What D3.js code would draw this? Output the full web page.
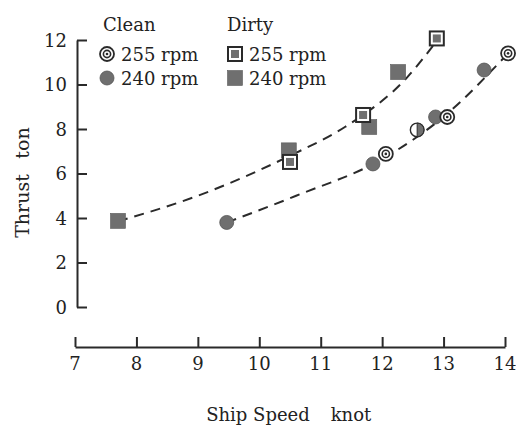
<!DOCTYPE html>
<html><head><meta charset="utf-8">
<script src="https://cdn.jsdelivr.net/npm/d3@7"></script>
<style>body{margin:0;background:#fff}svg{display:block}text{font-family:"DejaVu Serif",serif;fill:#222}</style>
</head><body><svg id="c" width="516" height="428"></svg>
<script>
const xTicks=[7,8,9,10,11,12,13,14];
const yTicks=[0,2,4,6,8,10,12];
const clean255X=[12.06,13.06,14.05], clean255Y=[6.88,8.54,11.4];
const clean240X=[9.47,11.85,12.87,13.66], clean240Y=[3.8,6.43,8.54,10.65];
const cleanHalfX=[12.57], cleanHalfY=[7.96];
const dirty255X=[10.5,11.69,12.89], dirty255Y=[6.52,8.63,12.07];
const dirty240X=[7.7,10.48,11.79,12.26], dirty240Y=[3.87,7.04,8.09,10.56];
const dirtyCurveX=[7.7,9.0,10.5,11.4,12.4,12.9], dirtyCurveY=[3.85,5.0,6.8,8.1,10.3,12.0];
const cleanCurveX=[9.47,10.6,12.0,13.0,14.05], cleanCurveY=[3.8,5.0,6.65,8.55,11.4];
const groupLabels=["Clean","Dirty"], rpmLabels=["255 rpm","240 rpm"];
const xTitle=["Ship Speed","knot"], yTitle=["Thrust","ton"];

const svg=d3.select("#c");
const x=d3.scaleLinear().domain([7,14]).range([75,505]);
const y=d3.scaleLinear().domain([0,12]).range([307,40]);
const ink="#2a2a2a", grey="#6f6f6f";

// axes
const ya=svg.append("g").attr("transform","translate(77,0)")
 .call(d3.axisRight(y).tickValues(yTicks).tickSize(10).tickSizeOuter(0).tickFormat(""));
const xa=svg.append("g").attr("transform","translate(0,347)")
 .call(d3.axisTop(x).tickValues(xTicks).tickSize(10).tickSizeOuter(0).tickFormat(""));
[ya,xa].forEach(g=>{g.selectAll("path,line").attr("stroke",ink).attr("stroke-width",2);});
svg.selectAll(".ylab").data(yTicks).join("text").attr("x",67).attr("y",d=>y(d)+6.5)
 .attr("text-anchor","end").attr("font-size",18).text(d=>d);
svg.selectAll(".xlab").data(xTicks).join("text").attr("x",d=>x(d)).attr("y",370)
 .attr("text-anchor","middle").attr("font-size",18).text(d=>d);

// titles
svg.append("text").attr("x",258).attr("y",421).attr("text-anchor","middle").attr("font-size",18).text(xTitle[0]);
svg.append("text").attr("x",351).attr("y",421).attr("text-anchor","middle").attr("font-size",18).text(xTitle[1]);
svg.append("text").attr("transform","translate(29,206) rotate(-90)").attr("text-anchor","middle").attr("font-size",19).text(yTitle[0]);
svg.append("text").attr("transform","translate(29,143) rotate(-90)").attr("text-anchor","middle").attr("font-size",19).text(yTitle[1]);

// curves
const line=d3.line().x(d=>x(d[0])).y(d=>y(d[1])).curve(d3.curveMonotoneX);
[[dirtyCurveX,dirtyCurveY],[cleanCurveX,cleanCurveY]].forEach(([cx,cy])=>{
 svg.append("path").attr("d",line(cx.map((v,i)=>[v,cy[i]]))).attr("fill","none")
  .attr("stroke",ink).attr("stroke-width",2).attr("stroke-dasharray","10,7");
});

// marker painters
function dblCircle(g,px,py){
 g.append("circle").attr("cx",px).attr("cy",py).attr("r",7).attr("fill","#fff").attr("stroke",ink).attr("stroke-width",1.8);
 g.append("circle").attr("cx",px).attr("cy",py).attr("r",3.6).attr("fill","#fff").attr("stroke",ink).attr("stroke-width",1.6);
 g.append("circle").attr("cx",px).attr("cy",py).attr("r",1.3).attr("fill",ink);
}
function fillCircle(g,px,py){
 g.append("circle").attr("cx",px).attr("cy",py).attr("r",7).attr("fill",grey).attr("stroke","#555").attr("stroke-width",0.8);
}
function halfCircle(g,px,py){
 g.append("circle").attr("cx",px).attr("cy",py).attr("r",6.8).attr("fill","#fff").attr("stroke",ink).attr("stroke-width",1.4);
 g.append("path").attr("d",`M${px},${py-6.8}A6.8,6.8 0 0 1 ${px},${py+6.8}Z`).attr("fill",grey).attr("stroke",ink).attr("stroke-width",1);
}
function dblSquare(g,px,py){
 g.append("rect").attr("x",px-7).attr("y",py-7).attr("width",14).attr("height",14).attr("fill","#fff").attr("stroke",ink).attr("stroke-width",2);
 g.append("rect").attr("x",px-4).attr("y",py-4).attr("width",8).attr("height",8).attr("fill",grey);
}
function fillSquare(g,px,py){
 g.append("rect").attr("x",px-7.5).attr("y",py-7.5).attr("width",15).attr("height",15).attr("fill",grey).attr("stroke","#5a5a5a").attr("stroke-width",0.6);
}
const m=svg.append("g");
dirty240X.forEach((v,i)=>fillSquare(m,x(v),y(dirty240Y[i])));
dirty255X.forEach((v,i)=>dblSquare(m,x(v),y(dirty255Y[i])));
clean240X.forEach((v,i)=>fillCircle(m,x(v),y(clean240Y[i])));
cleanHalfX.forEach((v,i)=>halfCircle(m,x(v),y(cleanHalfY[i])));
clean255X.forEach((v,i)=>dblCircle(m,x(v),y(clean255Y[i])));

// legend
const lg=svg.append("g");
lg.append("text").attr("x",103).attr("y",31).attr("font-size",18).text(groupLabels[0]);
lg.append("text").attr("x",227).attr("y",31).attr("font-size",18).text(groupLabels[1]);
dblCircle(lg,107,54); fillCircle(lg,107,78);
dblSquare(lg,235,54); fillSquare(lg,235,78);
[0,1].forEach(i=>{
 lg.append("text").attr("x",121).attr("y",61+i*24).attr("font-size",18).text(rpmLabels[i]);
 lg.append("text").attr("x",249).attr("y",61+i*24).attr("font-size",18).text(rpmLabels[i]);
});
</script></body></html>
